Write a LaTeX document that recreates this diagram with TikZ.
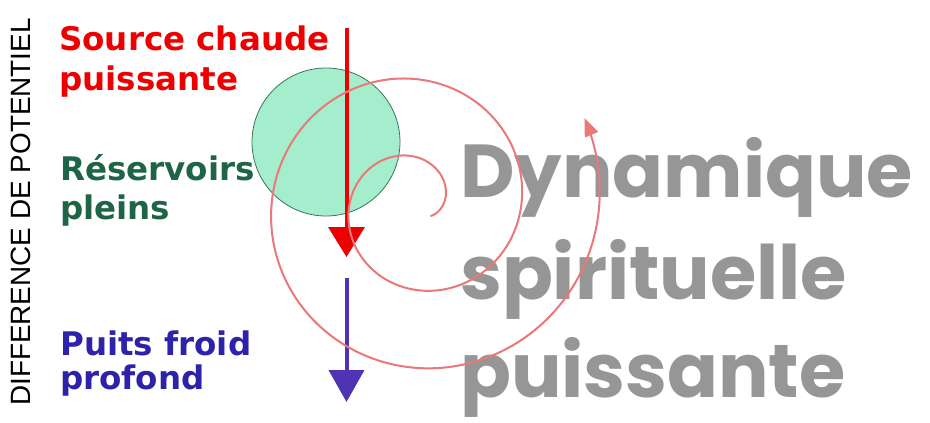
\documentclass[tikz,border=0pt]{standalone}
\usepackage{fontspec}
\usetikzlibrary{arrows.meta}
\newfontfamily\labfont{DejaVu Sans}
\newfontfamily\axisfont{Liberation Sans}
\newfontfamily\titlefont{Poppins}
\definecolor{hotred}{RGB}{236,0,0}
\definecolor{deepgreen}{RGB}{30,100,70}
\definecolor{deepblue}{RGB}{45,35,170}
\definecolor{arrowblue}{RGB}{80,50,180}
\definecolor{mint}{RGB}{165,238,205}
\definecolor{mintedge}{RGB}{60,115,90}
\definecolor{salmon}{RGB}{234,120,120}
\definecolor{titlegray}{RGB}{150,150,150}
\tikzset{
  label/.style={anchor=base west, inner sep=0pt, font=\labfont\bfseries\fontsize{32.5}{38}\selectfont, align=left},
  bigtext/.style={anchor=base west, inner sep=0pt, text=titlegray, font=\titlefont\bfseries\fontsize{75}{100}\selectfont},
  spiral/.style={draw=salmon, line width=2pt, -{Triangle[length=18pt,width=14pt]}},
}
\begin{document}
\begin{tikzpicture}[x=1pt,y=-1pt]
\useasboundingbox (0,0) rectangle (930,423);
% reservoir circle
\node[circle, draw=mintedge, fill=mint, line width=0.8pt, minimum size=148pt, inner sep=0pt] (res) at (326,142) {};
% axis label
\node[rotate=90, inner sep=0pt, font=\axisfont\fontsize{27.9}{30}\selectfont] (axis) at (21,212) {DIFFERENCE DE POTENTIEL};
% labels
\node[label, text=hotred] (src1) at (59,50) {Source chaude};
\node[label, text=hotred] (src2) at (59,90) {puissante};
\node[label, text=deepgreen] (res1) at (60,180) {Réservoirs};
\node[label, text=deepgreen] (res2) at (60,219) {pleins};
\node[label, text=deepblue] (pf1) at (60,355) {Puits froid};
\node[label, text=deepblue] (pf2) at (60,389) {profond};
% big title
\node[bigtext] (t1) at (460,197) {Dynamique};
\node[bigtext] (t2) at (460,299) {spirituelle};
\node[bigtext] (t3) at (460,397) {puissante};
% arrows
\coordinate (rtop) at (346.5,28);
\coordinate (rtip) at (346.5,257);
\coordinate (btop) at (346.5,278);
\coordinate (btip) at (346.5,402);
\draw[hotred, line width=4pt, -{Triangle[length=30pt,width=36pt]}] (rtop) -- (rtip);
\draw[arrowblue, line width=4pt, -{Triangle[length=32pt,width=35pt]}] (btop) -- (btip);
% spiral
\draw[spiral] plot[domain=-40:747, samples=400, smooth, variable=\t]
  ({416+(47+0.21642*(\t-90))*cos(\t)}, {204-(47+0.21642*(\t-90))*sin(\t)});
\end{tikzpicture}
\end{document}
